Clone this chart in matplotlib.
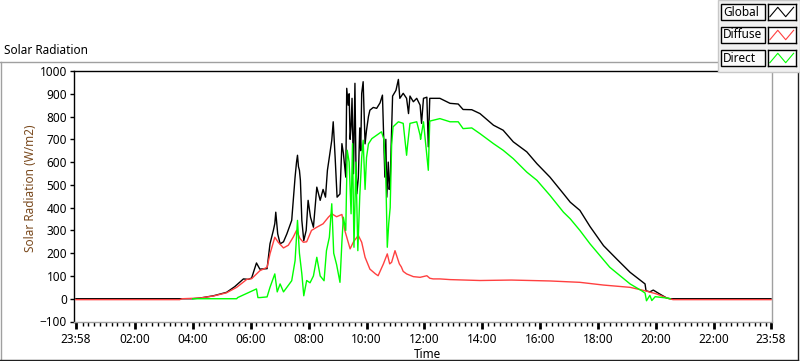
import numpy as np
import matplotlib.pyplot as plt
from matplotlib.lines import Line2D
from matplotlib.patches import Rectangle

plt.rcParams['font.family'] = ['Noto Sans', 'DejaVu Sans']

# minutes since midnight (axis runs 23:58 -> 23:58)
global_t = [-2, 240, 255, 283, 310, 327, 345, 355, 362, 372, 379, 394, 400, 407, 410, 412,
            416, 421, 428, 435, 445, 452, 455, 457, 459, 461, 463, 466, 470, 475, 479, 484, 490,
            497, 504, 510, 515, 519, 523, 528, 531, 535, 539, 545, 549, 552, 557, 559,
            562, 564, 566, 568, 570, 573, 576, 578, 580, 583, 586, 588, 590, 593, 597, 600, 604, 607, 614,
            621, 628, 633, 638, 640, 642, 645, 647, 649, 654, 661, 666, 669, 676, 683, 687, 690,
            697, 704, 711, 714, 718, 725, 728, 731, 752, 773, 790, 800, 818, 835, 863,
            883, 904, 932, 953, 980, 1008, 1022, 1042, 1063, 1091, 1118, 1146, 1177, 1179,
            1187, 1194, 1208, 1222, 1229, 1438]
global_v = [0, 0, 3, 13, 28, 53, 87, 85, 91, 157, 130, 132, 241, 300, 330, 380,
            285, 241, 250, 285, 344, 534, 600, 630, 580, 564, 520, 344, 255, 300, 432, 358, 314,
            490, 432, 480, 446, 564, 622, 696, 777, 620, 446, 460, 681, 640, 534, 924,
            850, 900, 700, 755, 880, 549, 946, 600, 461, 530, 750, 650, 902, 953, 680, 740, 800, 828, 840,
            836, 860, 894, 534, 700, 446, 600, 480, 520, 890, 915, 963, 880, 902, 880, 813, 890,
            865, 880, 850, 770, 880, 885, 667, 880, 880, 858, 855, 831, 830, 813, 762,
            740, 689, 645, 593, 534, 461, 424, 388, 317, 233, 175, 116, 65, 35,
            30, 38, 20, 3, 0, 0]

diffuse_t = [-2, 213, 218, 255, 283, 310, 331, 352, 362, 379, 394, 400, 410, 417, 428,
             438, 448, 455, 462, 469, 476, 486, 497, 510, 521, 528, 538, 549, 555, 566,
             573, 583, 590, 597, 607, 618, 624, 635, 643, 648, 652, 659, 668, 672, 676,
             683, 697, 711, 725, 731, 738, 752, 773, 835, 900, 980, 1042, 1091, 1146, 1177,
             1201, 1222, 1235, 1438]
diffuse_v = [-4, -4, 0, 3, 12, 26, 50, 85, 88, 123, 138, 197, 270, 248, 223,
             235, 270, 300, 265, 248, 250, 300, 314, 329, 358, 373, 360, 370, 300, 219,
             250, 278, 248, 182, 130, 110, 101, 153, 197, 153, 160, 211, 153, 140, 120,
             109, 97, 94, 101, 90, 87, 87, 84, 80, 82, 78, 72, 60, 50, 35,
             21, 3, -4, -4]

direct_t = [240, 255, 331, 333, 372, 375, 379, 394, 400, 410, 415, 421, 428, 435, 445,
            452, 457, 461, 466, 470, 476, 483, 490, 497, 504, 512, 517, 523, 528, 532,
            538, 545, 549, 552, 557, 560, 564, 568, 571, 574, 578, 582, 586, 590, 593,
            597, 600, 604, 611, 621, 631, 636, 640, 643, 646, 649, 652, 655, 666, 676,
            683, 685, 690, 704, 711, 712, 718, 728, 731, 752, 773, 790, 800, 818, 835,
            863, 883, 904, 932, 953, 980, 1008, 1022, 1042, 1063, 1104, 1146, 1170, 1177,
            1180, 1187, 1191, 1198, 1222, 1229]
direct_v = [0, 0, 0, 5, 43, 5, 5, 8, 50, 109, 30, 65, 30, 50, 79,
            167, 344, 200, 109, 13, 80, 70, 100, 182, 100, 79, 211, 270, 417, 200,
            150, 72, 250, 358, 300, 652, 600, 373, 681, 226, 600, 211, 450, 620, 696,
            480, 620, 680, 703, 718, 733, 700, 534, 226, 330, 400, 674, 755, 777, 770,
            630, 674, 770, 777, 718, 700, 777, 564, 780, 791, 777, 777, 747, 750, 725,
            681, 652, 615, 556, 520, 454, 380, 351, 300, 241, 138, 65, 35, 25,
            -9, 15, -8, 9, 3, 0]

series_names = ['Global', 'Diffuse', 'Direct']
series_colors = ['#000000', '#ff4040', '#00ff00']

tick_minutes = [-2, 120, 240, 360, 480, 600, 720, 840, 960, 1080, 1200, 1320, 1438]
tick_labels = ['23:58', '02:00', '04:00', '06:00', '08:00', '10:00', '12:00',
               '14:00', '16:00', '18:00', '20:00', '22:00', '23:58']

W, H = 800, 361
fig = plt.figure(figsize=(W / 100, H / 100), dpi=100)
fig.patch.set_facecolor('white')


def fx(x):
    return x / W


def fy(y):
    return 1 - y / H


ax = fig.add_axes([fx(74), fy(321.5), fx(772) - fx(74), fy(71) - fy(321.5)])
ax.plot(global_t, global_v, color=series_colors[0], lw=1.0, zorder=2)
ax.plot(diffuse_t, diffuse_v, color=series_colors[1], lw=1.0, zorder=3)
ax.plot(direct_t, direct_v, color=series_colors[2], lw=1.0, zorder=4)

ax.set_xlim(-6, 1440)
ax.set_ylim(-100, 1000)
ax.set_yticks(np.arange(-100, 1001, 100))
ax.set_xticks(tick_minutes)
ax.set_xticklabels(tick_labels)
ax.set_xticks(np.arange(12, 1430, 12), minor=True)
ax.tick_params(axis='y', length=3, width=1, pad=2, labelsize=8.5, colors='black')
ax.tick_params(axis='x', which='major', length=5, width=2, pad=3, labelsize=8.5)
ax.tick_params(axis='x', which='minor', length=3, width=1)

ax.spines['left'].set_color('black')
ax.spines['top'].set_color('black')
ax.spines['right'].set_color('#a0a0a0')
ax.spines['bottom'].set_color('#a0a0a0')
for s in ax.spines.values():
    s.set_linewidth(1)

fig.text(fx(428), fy(354), 'Time', ha='center', va='center', fontsize=8.5)
fig.text(fx(31), fy(188), 'Solar Radiation (W/m2)', rotation=90, ha='center',
         va='center', fontsize=8.5, color='#7a4a1e')
fig.text(fx(4), fy(51), 'Solar Radiation', ha='left', va='center', fontsize=8.5)

# outer frame
fig.add_artist(Line2D([fx(0.5), fx(0.5)], [fy(61.5), fy(360)], color='#a0a0a0', lw=1))
fig.add_artist(Line2D([fx(0), fx(718)], [fy(61.5), fy(61.5)], color='#a0a0a0', lw=1))
fig.add_artist(Line2D([fx(0), fx(798)], [fy(359.5), fy(359.5)], color='#202020', lw=1))
fig.add_artist(Line2D([fx(797.5), fx(797.5)], [fy(71), fy(360)], color='#202020', lw=1))

# legend panel
fig.add_artist(Rectangle((fx(717.5), fy(71.5)), fx(800) - fx(717.5), fy(0) - fy(71.5),
                         facecolor='#f0f0f0', edgecolor='#c8c8c8', lw=1, zorder=5))
row_tops = [4, 27, 50]
for name, color, top in zip(series_names, series_colors, row_tops):
    fig.add_artist(Rectangle((fx(721), fy(top + 16)), fx(765) - fx(721), fy(top) - fy(top + 16),
                             facecolor='#fafafa', edgecolor='black', lw=1, zorder=6))
    fig.text(fx(723), fy(top + 8), name, ha='left', va='center', fontsize=8.5, zorder=7)
    iax = fig.add_axes([fx(767.5), fy(top + 16), fx(796) - fx(767.5), fy(top) - fy(top + 16)])
    iax.set_zorder(10)
    iax.plot([0, 1, 2, 3], [0, 1, 0, 1], color=color, lw=0.8)
    iax.set_xlim(-0.3, 3.3)
    iax.set_ylim(-0.35, 1.35)
    iax.set_xticks([])
    iax.set_yticks([])
    iax.set_facecolor('white')
    for s in iax.spines.values():
        s.set_color('black')
        s.set_linewidth(1)

fig.savefig('out.png', dpi=100)
